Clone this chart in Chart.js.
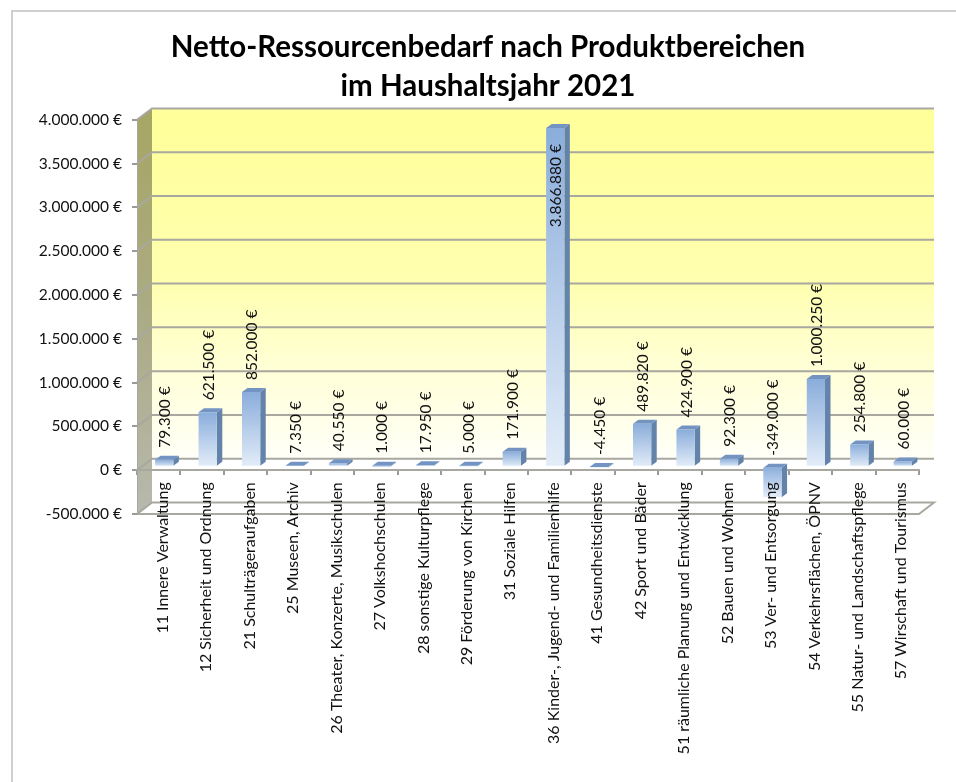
<!DOCTYPE html>
<html><head><meta charset="utf-8">
<style>html,body{margin:0;padding:0;background:#fff;overflow:hidden}#wrap{position:absolute;left:0;top:0;width:956px;height:782px}</style>
<script src="https://cdn.jsdelivr.net/npm/chart.js@4"></script>
</head><body><div id="wrap"><canvas id="c" width="956" height="782"></canvas></div>
<script>
const categories = ["11 Innere Verwaltung","12 Sicherheit und Ordnung","21 Schulträgeraufgaben","25 Museen, Archiv","26 Theater, Konzerte, Musikschulen","27 Volkshochschulen","28 sonstige Kulturpflege","29 Förderung von Kirchen","31 Soziale Hilfen","36 Kinder-, Jugend- und Familienhilfe","41 Gesundheitsdienste","42 Sport und Bäder","51 räumliche Planung und Entwicklung","52 Bauen und Wohnen","53 Ver- und Entsorgung","54 Verkehrsflächen, ÖPNV","55 Natur- und Landschaftspflege","57 Wirschaft und Tourismus"];
const values = [79300,621500,852000,7350,40550,1000,17950,5000,171900,3866880,-4450,489820,424900,92300,-349000,1000250,254800,60000];
const titleLines = ["Netto-Ressourcenbedarf nach Produktbereichen","im Haushaltsjahr 2021"];
const fmt = v => v.toLocaleString('de-DE') + ' €';
const FONT = 'Lato';
const wallDX = 15, wallDY = -11.5;
const barDX = 5.5, barDY = -3.5;
const depthX = 5.5, depthY = -4;

const scene = {
  id:'scene',
  afterLayout(ch){ ch.scales.y.left = 0; },
  beforeDraw(ch){
    const {ctx,chartArea:a,scales:{y}} = ch;
    ctx.save();
    ctx.strokeStyle='#cfcfcf';ctx.lineWidth=2;
    ctx.strokeRect(12,11,960,800);
    const zero=y.getPixelForValue(0), top=y.top, bot=y.bottom;
    let g=ctx.createLinearGradient(0,top+wallDY,0,zero+wallDY);
    g.addColorStop(0,'#FFFF99');g.addColorStop(.5,'#FFFFB0');g.addColorStop(.75,'#FFFFD8');g.addColorStop(1,'#FFFFF8');
    ctx.fillStyle=g;
    ctx.fillRect(a.left+wallDX,top+wallDY,a.right-a.left,zero-top);
    g=ctx.createLinearGradient(0,top,0,bot);
    g.addColorStop(0,'#A6A665');g.addColorStop(.5,'#ABAB85');g.addColorStop(1,'#B8B8AE');
    ctx.fillStyle=g;
    ctx.beginPath();ctx.moveTo(a.left,top);ctx.lineTo(a.left+wallDX,top+wallDY);ctx.lineTo(a.left+wallDX,bot+wallDY);ctx.lineTo(a.left,bot);ctx.closePath();ctx.fill();
    ctx.strokeStyle='#a8a8a0';ctx.lineWidth=2;
    y.ticks.forEach(t=>{
      const p=y.getPixelForValue(t.value);
      ctx.beginPath();ctx.moveTo(a.left,p);ctx.lineTo(a.left+wallDX,p+wallDY);ctx.lineTo(a.right+wallDX,p+wallDY);
      if(t.value===-500000){ctx.lineTo(a.right,p);ctx.lineTo(a.left,p);}
      ctx.stroke();
    });
    ctx.restore();
  },
  beforeDatasetsDraw(ch){
    const {ctx}=ch;
    ctx.save(); ctx.translate(barDX,barDY);
    ch.getDatasetMeta(0).data.forEach(b=>{
      const hw=b.width/2, l=b.x-hw, r=b.x+hw, t=Math.min(b.y,b.base), bt=Math.max(b.y,b.base);
      ctx.fillStyle='#6483ab';
      ctx.beginPath();ctx.moveTo(r,t);ctx.lineTo(r+depthX,t+depthY);ctx.lineTo(r+depthX,bt+depthY);ctx.lineTo(r,bt);ctx.closePath();ctx.fill();
      ctx.fillStyle='#7394c2';
      ctx.beginPath();ctx.moveTo(l,t);ctx.lineTo(l+depthX,t+depthY);ctx.lineTo(r+depthX,t+depthY);ctx.lineTo(r,t);ctx.closePath();ctx.fill();
    });
  },
  afterDatasetsDraw(ch){
    const {ctx,chartArea:a}=ch;
    ctx.restore();
    ctx.save();
    ctx.font='15.5px '+FONT;ctx.fillStyle='#111';ctx.textBaseline='middle';
    ch.getDatasetMeta(0).data.forEach((b,i)=>{
      const label=fmt(values[i]);
      const w=ctx.measureText(label).width;
      const t=Math.min(b.y,b.base)+barDY+depthY;
      let px=t-8;
      if(px-w<a.top){px=t+20+w;}
      ctx.save();ctx.translate(b.x+barDX+1,px);ctx.rotate(-Math.PI/2);ctx.textAlign='left';ctx.fillText(label,0,0);ctx.restore();
    });
    ctx.restore();
  }
};
const barFill = c => {
  if(c.type!=='data') return '#8fb0dc';
  const {ctx,scales:{y}}=c.chart; const v=values[c.dataIndex];
  const t=y.getPixelForValue(Math.max(v,0)), b=y.getPixelForValue(Math.min(v,0));
  if(!(b>t)) return '#8fb0dc';
  const g=ctx.createLinearGradient(0,t,0,b);
  g.addColorStop(0,'#8AADDB');g.addColorStop(1,'#E3EDF8');return g;
};
new Chart(document.getElementById('c'),{
  type:'bar',
  data:{labels:categories,datasets:[{data:values,backgroundColor:barFill,barPercentage:.42,categoryPercentage:1,borderWidth:0}]},
  plugins:[scene],
  options:{
    responsive:false,animation:false,
    layout:{padding:{left:57,right:37,top:28,bottom:268}},
    plugins:{legend:{display:false},tooltip:{enabled:false},
      title:{display:true,text:titleLines,color:'#000',font:{family:FONT,size:29.5,weight:'bold',lineHeight:1.32},padding:{top:0,bottom:14}}},
    scales:{
      x:{position:{y:0},offset:true,
        grid:{offset:true,drawOnChartArea:false,drawTicks:true,tickLength:4,color:'#9a9a9a',lineWidth:2},
        border:{display:true,color:'#a8a8a0',width:2},
        ticks:{autoSkip:false,minRotation:90,maxRotation:90,padding:8,labelOffset:4,z:1,color:'#111',font:{family:FONT,size:16}}},
      y:{min:-500000,max:4000000,
        afterFit(s){s.width=80;},
        grid:{drawOnChartArea:false,tickLength:5,color:'#9a9a9a',lineWidth:2},
        border:{display:true,color:'#a8a8a0',width:1},
        ticks:{stepSize:500000,padding:10,color:'#111',font:{family:FONT,size:15.5},callback:v=>fmt(v)}}
    }
  }
});
</script></body></html>
